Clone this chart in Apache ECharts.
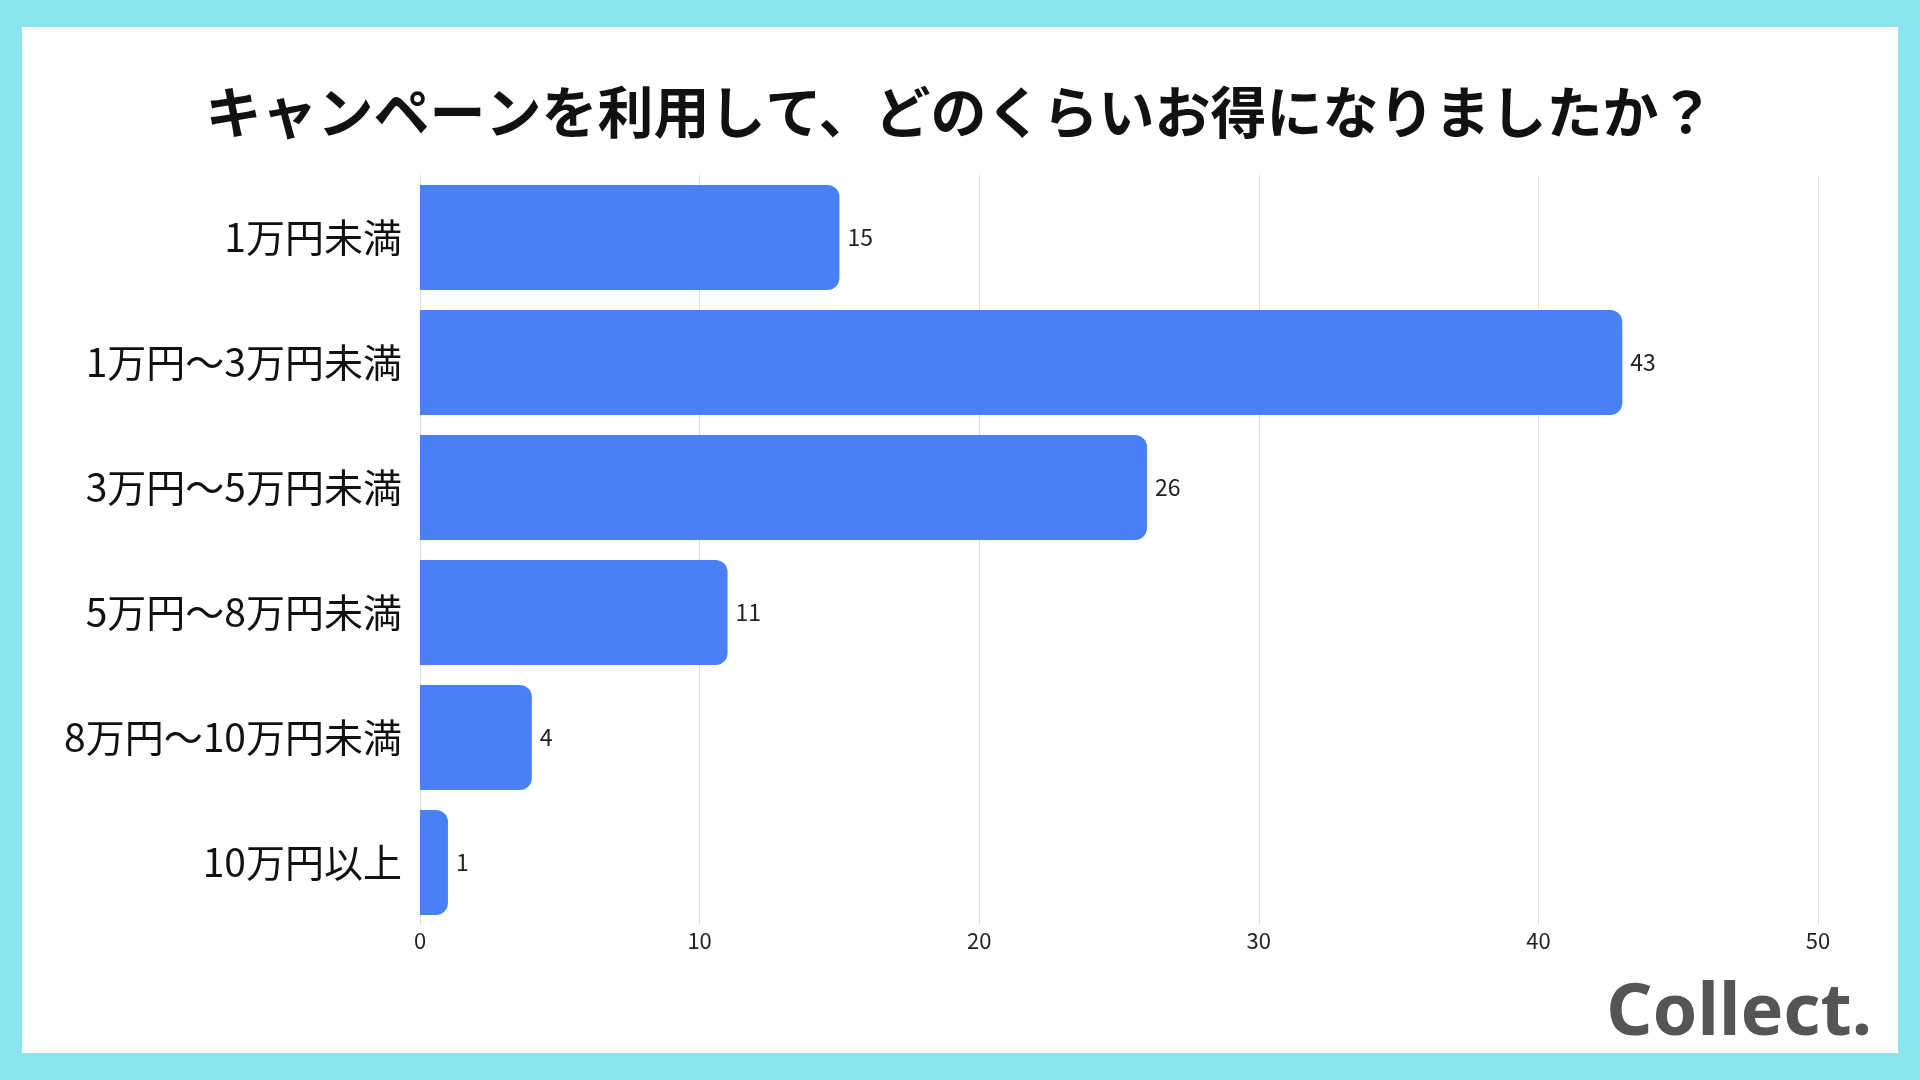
<!DOCTYPE html>
<html><head><meta charset="utf-8">
<script src="https://cdn.jsdelivr.net/npm/echarts@6/dist/echarts.min.js"></script>
<style>html,body{margin:0;padding:0;background:#8ae6ec}#c{width:1920px;height:1080px}</style>
</head><body><div id="c"></div>
<script>
const categories = ['1万円未満','1万円～3万円未満','3万円～5万円未満','5万円～8万円未満','8万円～10万円未満','10万円以上'];
const values = [15,43,26,11,4,1];
const xTicks = [0,10,20,30,40,50];
const F = '"Noto Sans CJK JP", "Noto Sans", sans-serif';
const chart = echarts.init(document.getElementById('c'));
chart.setOption({
  backgroundColor:'#8ae6ec',
  title:{text:'キャンペーンを利用して、どのくらいお得になりましたか？',left:'center',top:79,
    textStyle:{fontFamily:F,fontSize:56,fontWeight:'bold',color:'#111'}},
  graphic:[
    {type:'rect',z:-10,shape:{x:22,y:27,width:1876,height:1026},style:{fill:'#fff'}},
    {type:'text',right:48,top:978,style:{text:'Collect.',font:'bold 72px "Noto Sans", sans-serif',fill:'#555'}}
  ],
  grid:{left:420,right:102,top:175,bottom:155},
  xAxis:{type:'value',min:0,max:50,interval:10,
    axisLabel:{fontFamily:F,fontSize:22,color:'#222',margin:5,formatter:v=>xTicks.includes(v)?String(v):''},
    splitLine:{lineStyle:{color:'#ddd',width:1}},axisLine:{show:false},axisTick:{show:false}},
  yAxis:{type:'category',data:categories,inverse:true,
    axisLabel:{fontFamily:F,fontSize:39,color:'#111',margin:18},
    axisLine:{show:false},axisTick:{show:false}},
  series:[{type:'bar',data:values,barCategoryGap:'16%',
    itemStyle:{color:'#4a80f5',borderRadius:[0,12,12,0]},
    label:{show:true,position:'right',distance:8,fontFamily:F,fontSize:23,color:'#222'}}]
});
</script></body></html>
